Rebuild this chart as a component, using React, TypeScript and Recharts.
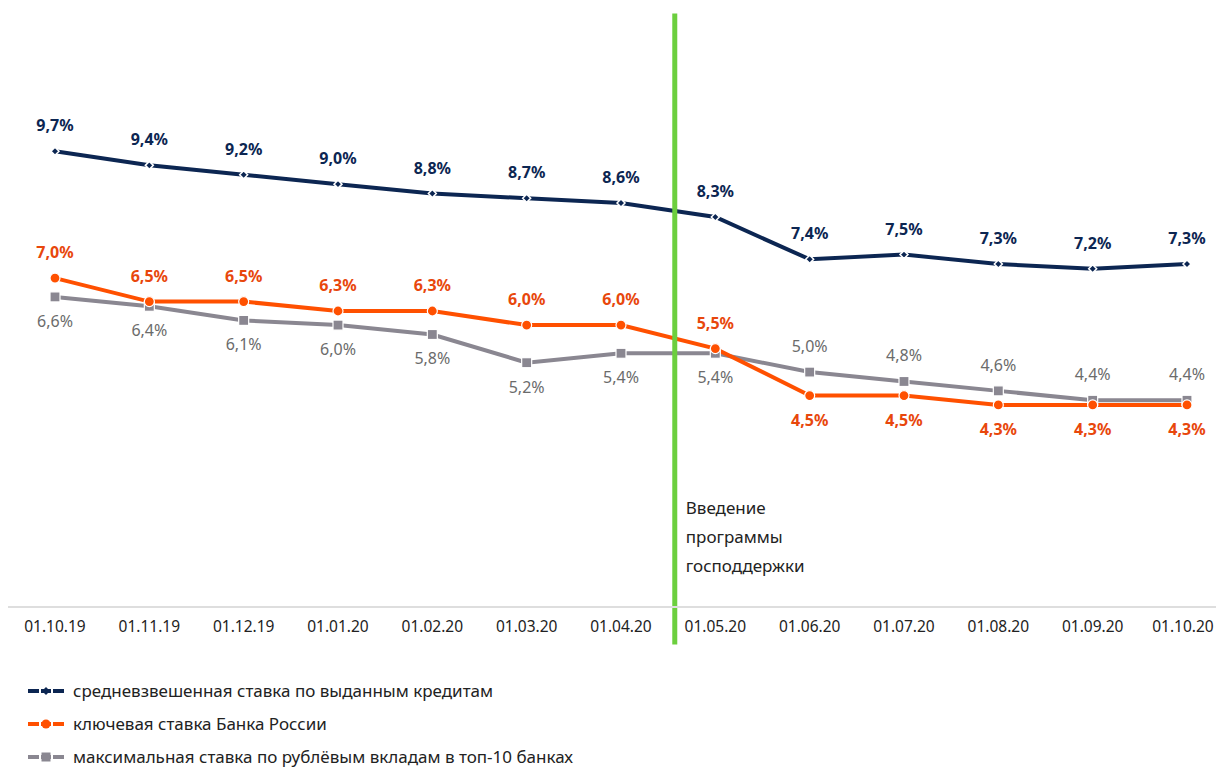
import { LineChart, Line, XAxis, YAxis, ReferenceLine, LabelList } from "recharts";

const dates = [
  "01.10.19", "01.11.19", "01.12.19", "01.01.20", "01.02.20", "01.03.20", "01.04.20",
  "01.05.20", "01.06.20", "01.07.20", "01.08.20", "01.09.20", "01.10.20",
];
const loanRate = [9.7, 9.4, 9.2, 9.0, 8.8, 8.7, 8.6, 8.3, 7.4, 7.5, 7.3, 7.2, 7.3];
const keyRate = [7.0, 6.5, 6.5, 6.3, 6.3, 6.0, 6.0, 5.5, 4.5, 4.5, 4.3, 4.3, 4.3];
const depositRate = [6.6, 6.4, 6.1, 6.0, 5.8, 5.2, 5.4, 5.4, 5.0, 4.8, 4.6, 4.4, 4.4];
const programStart = 6.57; // between 01.04.20 and 01.05.20
const programLabel = ["Введение", "программы", "господдержки"];

const legendItems = [
  { name: "средневзвешенная ставка по выданным кредитам", color: "#0c2652", shape: "diamond" },
  { name: "ключевая ставка Банка России", color: "#ff5000", shape: "circle" },
  { name: "максимальная ставка по рублёвым вкладам в топ-10 банках", color: "#8a8791", shape: "square" },
];

const data = dates.map((d, i) => ({
  i,
  date: d,
  loan: loanRate[i],
  key: keyRate[i],
  deposit: depositRate[i],
}));

const NAVY = "#0c2652";
const ORANGE = "#ff5000";
const ORANGE_TEXT = "#e8470c";
const GRAY = "#8a8791";
const GRAY_TEXT = "#6b6b6b";
const FONT = "'Noto Sans', sans-serif";

const fmt = (v: number) => v.toFixed(1).replace(".", ",") + "%";

// after the crossing (index 8) the orange labels go below and the gray ones above
const makeLabel = (color: string, weight: number, below: (idx: number) => boolean) => (props: any) => {
  const { x, y, value, index } = props;
  const down = below(index);
  return (
    <text
      x={x}
      y={down ? y + 30 : y - 20}
      textAnchor="middle"
      fill={color}
      fontSize={16}
      fontWeight={weight}
      fontFamily={FONT}
    >
      {fmt(value)}
    </text>
  );
};

const DateTick = (props: any) => {
  const { x, y, payload } = props;
  // keep the last label inside the picture
  const tx = Math.min(x, 1214 - 31);
  return (
    <text x={tx} y={y + 23} textAnchor="middle" fill="#222" fontSize={15.5} fontFamily={FONT}>
      {dates[payload.value]}
    </text>
  );
};

const Diamond = (props: any) => {
  const { cx, cy } = props;
  if (cx == null) return null;
  return (
    <path
      d={`M${cx},${cy - 4} L${cx + 4},${cy} L${cx},${cy + 4} L${cx - 4},${cy} Z`}
      fill={NAVY}
      stroke="#fff"
      strokeWidth={1.5}
    />
  );
};

const Square = (props: any) => {
  const { cx, cy } = props;
  if (cx == null) return null;
  return <rect x={cx - 5} y={cy - 5} width={10} height={10} fill={GRAY} stroke="#fff" strokeWidth={1.2} />;
};

const LegendIcon = ({ color, shape }: { color: string; shape: string }) => (
  <svg width={40} height={12} style={{ marginRight: 7 }}>
    <line x1={2} y1={6} x2={38} y2={6} stroke={color} strokeWidth={4} />
    <line x1={13} y1={6} x2={15} y2={6} stroke="#fff" strokeWidth={4} />
    <line x1={25} y1={6} x2={27} y2={6} stroke="#fff" strokeWidth={4} />
    {shape === "circle" && <circle cx={20} cy={6} r={4.5} fill={color} />}
    {shape === "square" && <rect x={15.5} y={1.5} width={9} height={9} fill={color} />}
    {shape === "diamond" && <path d="M20,2 L24,6 L20,10 L16,6 Z" fill={color} />}
  </svg>
);

const ProgramLabel = (props: any) => {
  const { viewBox } = props;
  return (
    <text x={viewBox.x + 11} y={514} fill="#222" fontSize={17} fontFamily={FONT}>
      {programLabel.map((l, k) => (
        <tspan key={k} x={viewBox.x + 11} dy={k === 0 ? 0 : 29}>
          {l}
        </tspan>
      ))}
    </text>
  );
};

export default function App() {
  return (
    <div
      style={{
        position: "absolute",
        left: 0,
        top: 0,
        width: 1216,
        height: 767,
        overflow: "hidden",
        background: "#fff",
      }}
    >
      <LineChart width={1216} height={660} data={data} margin={{ top: 15, right: 0, left: 8, bottom: 0 }}>
        <XAxis
          dataKey="i"
          type="number"
          domain={[0, 12]}
          ticks={data.map((d) => d.i)}
          padding={{ left: 47, right: 29 }}
          height={53}
          axisLine={{ stroke: "#dedede", strokeWidth: 2 }}
          tickLine={false}
          tickSize={0}
          interval={0}
          tick={<DateTick />}
        />
        <YAxis hide domain={[0, 12.6]} />
        <Line
          dataKey="deposit"
          stroke={GRAY}
          strokeWidth={4}
          dot={<Square />}
          isAnimationActive={false}
        >
          <LabelList dataKey="deposit" content={makeLabel(GRAY_TEXT, 400, (i) => i < 8)} />
        </Line>
        <Line
          dataKey="key"
          stroke={ORANGE}
          strokeWidth={4}
          dot={{ r: 5, fill: ORANGE, stroke: "#fff", strokeWidth: 1.2 }}
          isAnimationActive={false}
        >
          <LabelList dataKey="key" content={makeLabel(ORANGE_TEXT, 700, (i) => i >= 8)} />
        </Line>
        <Line
          dataKey="loan"
          stroke={NAVY}
          strokeWidth={4}
          dot={<Diamond />}
          isAnimationActive={false}
        >
          <LabelList dataKey="loan" content={makeLabel(NAVY, 700, () => false)} />
        </Line>
        <ReferenceLine
          segment={[
            { x: programStart, y: 12.63 },
            { x: programStart, y: -0.8 },
          ]}
          stroke="#6ccf3e"
          strokeWidth={5}
          ifOverflow="visible"
          label={<ProgramLabel />}
        />
      </LineChart>
      <div style={{ position: "absolute", left: 26, top: 674, fontFamily: FONT, fontSize: 17, color: "#222" }}>
        {legendItems.map((it) => (
          <div key={it.name} style={{ display: "flex", alignItems: "center", height: 33, whiteSpace: "nowrap" }}>
            <LegendIcon color={it.color} shape={it.shape} />
            <span>{it.name}</span>
          </div>
        ))}
      </div>
    </div>
  );
}
